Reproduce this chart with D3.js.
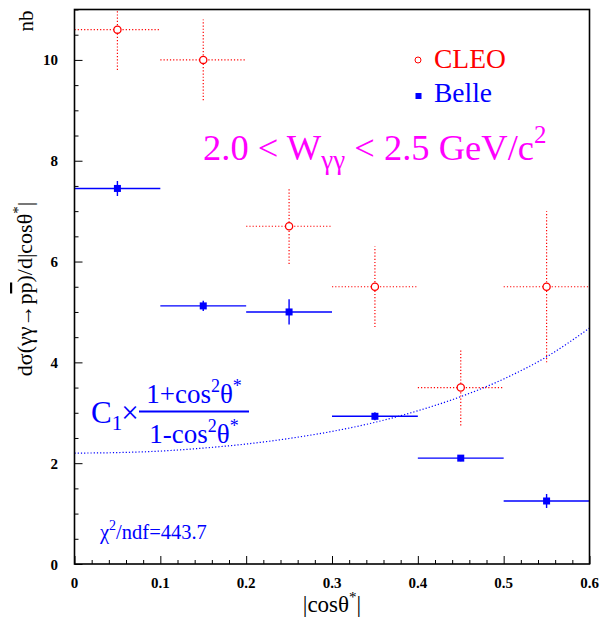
<!DOCTYPE html>
<html>
<head>
<meta charset="utf-8">
<script src="https://cdn.jsdelivr.net/npm/d3@7"></script>
<style>
  html, body { margin: 0; padding: 0; background: #fff; }
  svg { display: block; }
</style>
</head>
<body>
<svg id="chart" width="600" height="621" font-family="'Liberation Serif', Tinos, 'Times New Roman', 'DejaVu Serif', serif"></svg>
<script>
// ---- data ----
const binCenters = [0.05, 0.15, 0.25, 0.35, 0.45, 0.55];
const binHalfWidth = 0.05;
const cleoValues = [10.6, 10.0, 6.7, 5.5, 3.5, 5.5];
const cleoErrors = [0.8, 0.8, 0.75, 0.8, 0.75, 1.5];
const belleValues = [7.45, 5.12, 5.0, 2.93, 2.1, 1.25];
const belleErrors = [0.15, 0.1, 0.25, 0.08, 0.06, 0.14];
// fit curve
const fitX = [0, 0.05, 0.1, 0.15, 0.2, 0.25, 0.3, 0.35, 0.4, 0.45, 0.5, 0.55, 0.6];
const fitY = [2.2, 2.21, 2.24, 2.3, 2.38, 2.49, 2.63, 2.81, 3.04, 3.32, 3.67, 4.11, 4.68];
const xTickLabels = ["0", "0.1", "0.2", "0.3", "0.4", "0.5", "0.6"];
const yTickLabels = ["0", "2", "4", "6", "8", "10"];

const svg = d3.select("#chart");
const mLeft = 74.5, mRight = 589.5, mTop = 9.5, mBottom = 564;
const x = d3.scaleLinear().domain([0, 0.6]).range([mLeft, mRight]);
const y = d3.scaleLinear().domain([0, 11]).range([mBottom, mTop]);

const RED = "#ff0000", BLUE = "#0000ff", MAG = "#ff00ff";

svg.append("defs").append("clipPath").attr("id", "plotclip")
  .append("rect").attr("x", mLeft).attr("y", mTop).attr("width", mRight - mLeft).attr("height", mBottom - mTop);

const plot = svg.append("g").attr("clip-path", "url(#plotclip)");

// fit curve
const fitData = fitX.map((v, i) => [v, fitY[i]]);
plot.append("path")
  .datum(fitData)
  .attr("fill", "none")
  .attr("stroke", BLUE)
  .attr("stroke-width", 1.2)
  .attr("stroke-dasharray", "1.2,2")
  .attr("d", d3.line().x(d => x(d[0])).y(d => y(d[1])).curve(d3.curveMonotoneX));

// CLEO error bars
const cleo = binCenters.map((c, i) => ({ c, v: cleoValues[i], e: cleoErrors[i] }));
const cg = plot.append("g");
cg.selectAll("line.h").data(cleo).join("line")
  .attr("x1", d => x(d.c - binHalfWidth)).attr("x2", d => x(d.c + binHalfWidth))
  .attr("y1", d => y(d.v)).attr("y2", d => y(d.v))
  .attr("stroke", RED).attr("stroke-width", 1.2).attr("stroke-dasharray", "1.2,2");
cg.selectAll("line.v").data(cleo).join("line")
  .attr("x1", d => x(d.c)).attr("x2", d => x(d.c))
  .attr("y1", d => y(d.v - d.e)).attr("y2", d => y(d.v + d.e))
  .attr("stroke", RED).attr("stroke-width", 1.2).attr("stroke-dasharray", "1.2,2");
cg.selectAll("circle").data(cleo).join("circle")
  .attr("cx", d => x(d.c)).attr("cy", d => y(d.v)).attr("r", 3.6)
  .attr("fill", "#fff").attr("stroke", RED).attr("stroke-width", 1.3);

// Belle
const belle = binCenters.map((c, i) => ({ c, v: belleValues[i], e: belleErrors[i] }));
const bg = plot.append("g");
bg.selectAll("line.h").data(belle).join("line")
  .attr("x1", d => x(d.c - binHalfWidth)).attr("x2", d => x(d.c + binHalfWidth))
  .attr("y1", d => y(d.v)).attr("y2", d => y(d.v))
  .attr("stroke", BLUE).attr("stroke-width", 1.4);
bg.selectAll("line.v").data(belle).join("line")
  .attr("x1", d => x(d.c)).attr("x2", d => x(d.c))
  .attr("y1", d => y(d.v - d.e)).attr("y2", d => y(d.v + d.e))
  .attr("stroke", BLUE).attr("stroke-width", 1.4);
bg.selectAll("rect").data(belle).join("rect")
  .attr("x", d => x(d.c) - 3.5).attr("y", d => y(d.v) - 3.5)
  .attr("width", 7).attr("height", 7).attr("fill", BLUE);

// Axes
const axisX = d3.axisBottom(x).tickValues(d3.range(0, 0.6001, 0.02)).tickFormat("").tickSizeInner(-4).tickSizeOuter(0);
const gx = svg.append("g").attr("transform", `translate(0,${mBottom})`).call(axisX);
gx.selectAll(".tick line").attr("stroke", "#000").attr("stroke-width", 1)
  .attr("y2", (d, i) => (i % 5 === 0) ? -8 : -4);
gx.select(".domain").remove();

const axisY = d3.axisLeft(y).tickValues(d3.range(0, 11.001, 0.5)).tickFormat("").tickSizeInner(-4).tickSizeOuter(0);
const gy = svg.append("g").attr("transform", `translate(${mLeft},0)`).call(axisY);
gy.selectAll(".tick line").attr("stroke", "#000").attr("stroke-width", 1)
  .attr("x2", (d, i) => (i % 4 === 0) ? 8 : 4);
gy.select(".domain").remove();

// frame
svg.append("rect").attr("x", mLeft).attr("y", mTop).attr("width", mRight - mLeft).attr("height", mBottom - mTop)
  .attr("fill", "none").attr("stroke", "#000").attr("stroke-width", 1.6);

// tick labels
svg.append("g").selectAll("text").data(xTickLabels).join("text")
  .attr("x", (d, i) => x(i * 0.1)).attr("y", 588)
  .attr("text-anchor", "middle").attr("font-weight", "bold").attr("font-size", 15)
  .text(d => d);
svg.append("g").selectAll("text").data(yTickLabels).join("text")
  .attr("x", 58).attr("y", (d, i) => y(i * 2) + 5.5)
  .attr("text-anchor", "end").attr("font-weight", "bold").attr("font-size", 15)
  .text(d => d);

// axis titles
const xt = svg.append("text").attr("x", 332).attr("y", 612).attr("text-anchor", "middle").attr("font-size", 23);
xt.append("tspan").text("|cosθ");
xt.append("tspan").attr("font-size", 15).attr("dy", -10).text("*");
xt.append("tspan").attr("dy", 10).text("|");

svg.append("text").attr("transform", "translate(33,21) rotate(-90)")
  .attr("text-anchor", "middle").attr("font-size", 21).text("nb");

const yt = svg.append("text").attr("transform", "translate(32,289) rotate(-90)")
  .attr("text-anchor", "middle").attr("font-size", 22);
yt.append("tspan").text("dσ(γγ→p");
yt.append("tspan").attr("text-decoration", "overline").text("p");
yt.append("tspan").text(")/d|cosθ");
yt.append("tspan").attr("font-size", 15).attr("dy", -9).text("*");
yt.append("tspan").attr("dy", 9).text("|");

// legend
svg.append("circle").attr("cx", 418).attr("cy", 60).attr("r", 3).attr("fill", "#fff")
  .attr("stroke", RED).attr("stroke-width", 1);
svg.append("text").attr("x", 434).attr("y", 68).attr("font-size", 27.5).attr("fill", RED).text("CLEO");
svg.append("rect").attr("x", 415.5).attr("y", 93).attr("width", 6).attr("height", 6).attr("fill", BLUE);
svg.append("text").attr("x", 434).attr("y", 102).attr("font-size", 27.5).attr("fill", BLUE).text("Belle");

// W range label
const wt = svg.append("text").attr("x", 203).attr("y", 160).attr("font-size", 36.5).attr("fill", MAG);
wt.append("tspan").text("2.0 < W");
wt.append("tspan").attr("font-size", 27).attr("dy", 9).text("γγ");
wt.append("tspan").attr("dy", -9).text(" < 2.5 GeV/c");
wt.append("tspan").attr("font-size", 25).attr("dy", -17).text("2");

// formula
const ft = svg.append("text").attr("x", 91).attr("y", 423).attr("font-size", 31).attr("fill", BLUE);
ft.append("tspan").text("C");
ft.append("tspan").attr("font-size", 21).attr("dy", 7).text("1");
ft.append("tspan").attr("dy", -7).attr("dx", -1).text("×");
svg.append("line").attr("x1", 139).attr("x2", 249).attr("y1", 411.5).attr("y2", 411.5)
  .attr("stroke", BLUE).attr("stroke-width", 2);
function fracPart(yb, lead) {
  const t = svg.append("text").attr("x", 194).attr("y", yb).attr("text-anchor", "middle")
    .attr("font-size", 27).attr("fill", BLUE);
  t.append("tspan").text(lead + "cos");
  t.append("tspan").attr("font-size", 18).attr("dy", -11).text("2");
  t.append("tspan").attr("dy", 11).text("θ");
  t.append("tspan").attr("font-size", 18).attr("dy", -11).text("*");
}
fracPart(403, "1+");
fracPart(443, "1-");

// chi2
const ct = svg.append("text").attr("x", 100).attr("y", 539).attr("font-size", 20.5).attr("fill", BLUE);
ct.append("tspan").text("χ");
ct.append("tspan").attr("font-size", 14).attr("dy", -9).text("2");
ct.append("tspan").attr("dy", 9).text("/ndf=443.7");
</script>
</body>
</html>
